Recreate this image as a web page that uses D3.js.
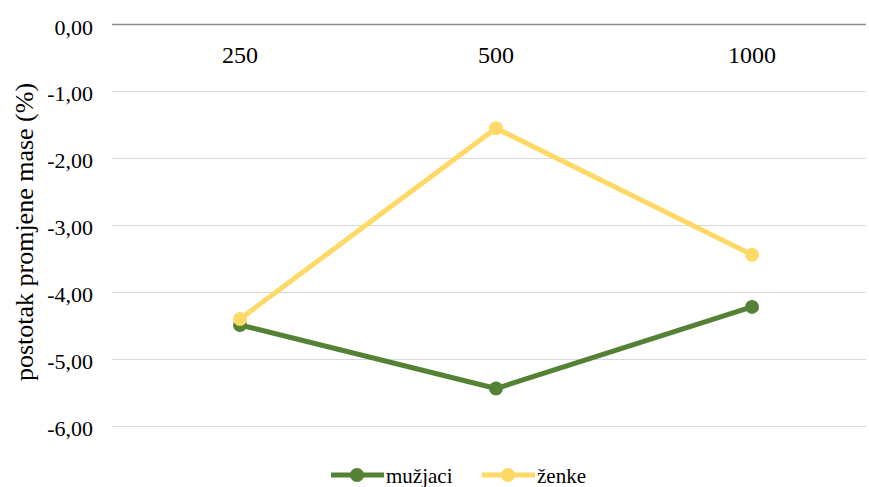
<!DOCTYPE html>
<html><head><meta charset="utf-8">
<script src="https://cdn.jsdelivr.net/npm/d3@7/dist/d3.min.js"></script>
<style>body{margin:0;background:#fff}svg{display:block}</style>
</head><body>
<script>
const categories = ["250", "500", "1000"];
const seriesNames = ["mužjaci", "ženke"];
const muzjaci = [-4.49, -5.44, -4.22];
const zenke = [-4.40, -1.55, -3.44];
const yTicks = [0, -1, -2, -3, -4, -5, -6];
const colors = ["#548235", "#FFD966"];
const FONT = "Liberation Serif";

const W = 869, H = 487;
const svg = d3.select("body").append("svg").attr("width", W).attr("height", H)
  .attr("font-family", FONT);
const plotL = 112, plotR = 866;
const x = d3.scaleBand().domain(categories).range([112, 880]);
const y = d3.scaleLinear().domain([-6, 0]).range([426, 24.5]);
const fmt = v => d3.format(".2f")(v).replace(".", ",").replace("−", "-");

// gridlines
svg.append("g").selectAll("line").data(yTicks.filter(d => d !== 0)).join("line")
  .attr("x1", plotL).attr("x2", plotR)
  .attr("y1", d => Math.round(y(d)) + 0.5).attr("y2", d => Math.round(y(d)) + 0.5)
  .attr("stroke", "#d9d9d9").attr("stroke-width", 1);

// y tick labels
const yAxis = d3.axisLeft(y).tickValues(yTicks).tickFormat(fmt).tickSize(0).tickPadding(0);
const gy = svg.append("g").attr("transform", "translate(93,0)").call(yAxis)
  .attr("font-family", FONT).attr("font-size", 22);
gy.select(".domain").remove();
gy.selectAll("text").attr("font-size", 22).attr("dy", null).attr("y", 9.5)
  .attr("fill", "#000").attr("font-family", FONT);

// top axis line at 0
svg.append("line").attr("x1", plotL).attr("x2", plotR)
  .attr("y1", y(0)).attr("y2", y(0)).attr("stroke", "#8c8c8c").attr("stroke-width", 1.5);

// category labels
const xAxis = d3.axisBottom(x).tickSize(0).tickPadding(0);
const gx = svg.append("g").attr("transform", "translate(0,63)").call(xAxis)
  .attr("font-family", FONT).attr("font-size", 24);
gx.select(".domain").remove();
gx.selectAll("text").attr("font-size", 24).attr("dy", null).attr("y", 0)
  .attr("fill", "#000").attr("font-family", FONT);

// y title
svg.append("text").attr("transform", "translate(33,232) rotate(-90)")
  .attr("text-anchor", "middle").attr("font-size", 26).attr("fill", "#000")
  .attr("font-family", FONT).text("postotak promjene mase (%)");

// lines
const data = [muzjaci, zenke];
const cx = i => x(categories[i]) + x.bandwidth() / 2;
const line = d3.line().x((d, i) => cx(i)).y(d => y(d));
data.forEach((vals, s) => {
  svg.append("path").attr("d", line(vals)).attr("fill", "none")
    .attr("stroke", colors[s]).attr("stroke-width", 5).attr("stroke-linejoin", "round");
  svg.append("g").selectAll("circle").data(vals).join("circle")
    .attr("cx", (d, i) => cx(i)).attr("cy", d => y(d))
    .attr("r", 7).attr("fill", colors[s]);
});

// legend
const legX = [331, 482], legY = 475;
seriesNames.forEach((n, s) => {
  svg.append("line").attr("x1", legX[s]).attr("x2", legX[s] + 53).attr("y1", legY).attr("y2", legY)
    .attr("stroke", colors[s]).attr("stroke-width", 5);
  svg.append("circle").attr("cx", legX[s] + 26).attr("cy", legY).attr("r", 7).attr("fill", colors[s]);
  svg.append("text").attr("x", legX[s] + 55).attr("y", legY + 8).attr("font-size", 21).attr("fill", "#000")
    .attr("font-family", FONT).text(n);
});
</script>
</body></html>
